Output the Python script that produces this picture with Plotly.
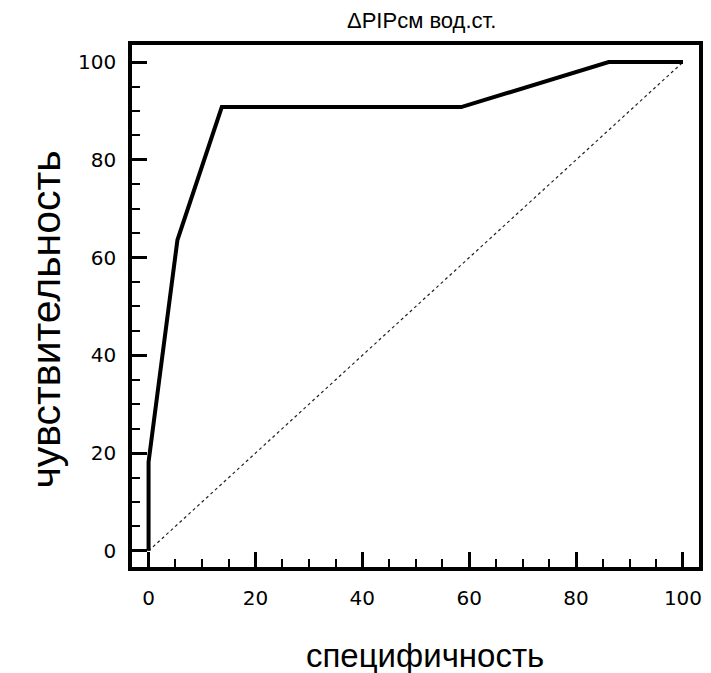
import plotly.graph_objects as go

# ROC curve data (specificity axis, sensitivity)
roc_x = [0, 0, 5.4, 13.7, 58.5, 86.1, 100]
roc_y = [0, 18.2, 63.6, 90.8, 90.8, 100, 100]
diag_x = [0, 100]
diag_y = [0, 100]
tick_vals = [0, 20, 40, 60, 80, 100]
tick_text = ["0", "20", "40", "60", "80", "100"]

title_text = "ΔPIPсм вод.ст."
x_title = "специфичность"
y_title = "чувствительность"

W, H = 711, 673
L, R, T, B = 132, 8, 45, 106
pw = W - L - R
ph = H - T - B

fig = go.Figure()
fig.add_trace(go.Scatter(x=diag_x, y=diag_y, mode="lines",
                         line=dict(color="#222222", width=1.2, dash="dot"),
                         showlegend=False, hoverinfo="skip"))
fig.add_trace(go.Scatter(x=roc_x, y=roc_y, mode="lines",
                         line=dict(color="black", width=4),
                         showlegend=False))

axis_common = dict(
    showline=True, linewidth=3.5, linecolor="black", mirror=True,
    ticks="inside", ticklen=15, tickwidth=3, tickcolor="black",
    tickvals=tick_vals, ticktext=tick_text,
    minor=dict(ticks="inside", dtick=5, tick0=0, ticklen=8, tickwidth=2, tickcolor="black"),
    showgrid=False, zeroline=False,
    tickfont=dict(family="DejaVu Sans", size=20, color="black"),
)

fig.update_layout(
    width=W, height=H,
    margin=dict(l=L, r=R, t=T, b=B),
    plot_bgcolor="white", paper_bgcolor="white",
    xaxis=dict(range=[-3.1, 103.0], ticklabelstandoff=10, **axis_common),
    yaxis=dict(range=[-3.3, 103.5], ticklabelstandoff=8, **axis_common),
    annotations=[
        dict(text=title_text, xref="paper", yref="paper",
             x=(424 - L) / pw, y=(H - B - 20) / ph, showarrow=False,
             xanchor="center", yanchor="middle",
             font=dict(family="Liberation Sans", size=22, color="black")),
        dict(text=x_title, xref="paper", yref="paper",
             x=(427 - L) / pw, y=(H - B - 655) / ph, showarrow=False,
             xanchor="center", yanchor="middle",
             font=dict(family="Liberation Sans", size=33, color="black")),
        dict(text=y_title, xref="paper", yref="paper", textangle=-90,
             x=(45 - L) / pw, y=(H - B - 320) / ph, showarrow=False,
             xanchor="center", yanchor="middle",
             font=dict(family="Liberation Sans", size=41, color="black")),
    ],
)

fig.write_html(
    "out.html",
    config={"displayModeBar": False},
    post_script="document.documentElement.style.margin='0';document.body.style.margin='0';document.body.style.overflow='hidden';",
)
